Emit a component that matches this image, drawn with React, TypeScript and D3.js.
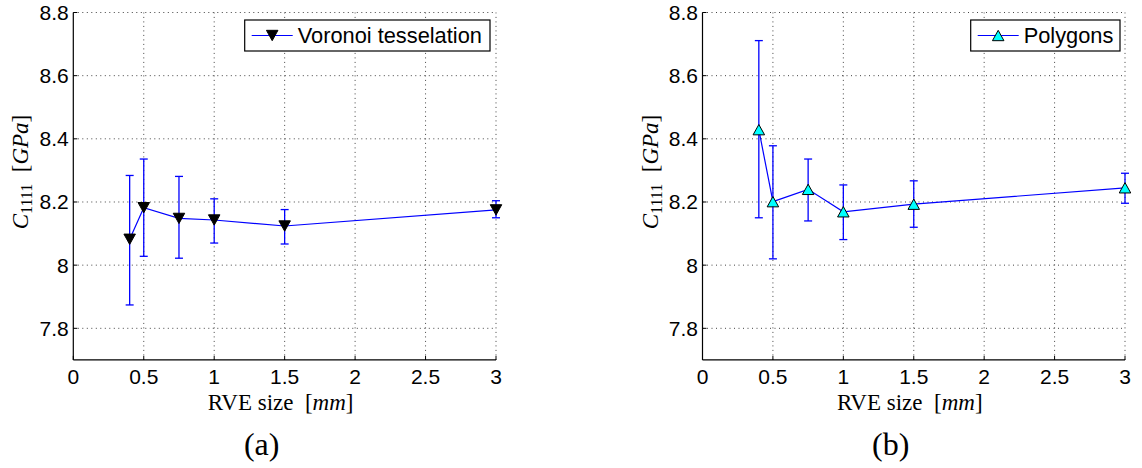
import React from "react";
import * as d3 from "d3";

const rveSizes = [0.4, 0.5, 0.75, 1, 1.5, 3];
const voronoiMean = [8.082, 8.182, 8.148, 8.143, 8.124, 8.175];
const voronoiUpper = [8.284, 8.336, 8.281, 8.21, 8.176, 8.204];
const voronoiLower = [7.874, 8.028, 8.022, 8.07, 8.067, 8.15];
const polygonMean = [8.429, 8.201, 8.24, 8.169, 8.193, 8.245];
const polygonUpper = [8.711, 8.378, 8.336, 8.254, 8.267, 8.291];
const polygonLower = [8.15, 8.02, 8.14, 8.081, 8.12, 8.196];
const xTicks = [0, 0.5, 1, 1.5, 2, 2.5, 3];
const xTickLabels = ["0", "0.5", "1", "1.5", "2", "2.5", "3"];
const yTicks = [7.8, 8, 8.2, 8.4, 8.6, 8.8];
const yTickLabels = ["7.8", "8", "8.2", "8.4", "8.6", "8.8"];
const seriesNames = ["Voronoi tesselation", "Polygons"];
const panelTags = ["(a)", "(b)"];

const W = 1142;
const H = 468;
const SANS = "'Liberation Sans', Arial, Helvetica, sans-serif";
const SERIF = "'Liberation Serif', 'Times New Roman', serif";

type PanelProps = {
  left: number;
  right: number;
  mean: number[];
  upper: number[];
  lower: number[];
  name: string;
  tag: string;
  marker: "down" | "up";
  legendX0: number;
  legendX1: number;
};

function tri(cx: number, cy: number, s: number, dir: "down" | "up") {
  const h = s * 0.9;
  if (dir === "down") {
    return `M${cx - s / 2},${cy - h / 2}L${cx + s / 2},${cy - h / 2}L${cx},${cy + h / 2}Z`;
  }
  return `M${cx - s / 2},${cy + h / 2}L${cx + s / 2},${cy + h / 2}L${cx},${cy - h / 2}Z`;
}

function Panel(p: PanelProps) {
  const top = 12.5;
  const bottom = 359.9;
  const x = d3.scaleLinear().domain([0, 3]).range([p.left, p.right]);
  const y = d3.scaleLinear().domain([7.7, 8.8]).range([bottom, top]);
  const line = d3
    .line<number>()
    .x((_, i) => x(rveSizes[i]))
    .y((d) => y(d));
  const fill = p.marker === "down" ? "#000" : "#00ffff";
  const cx = (p.left + p.right) / 2;
  const capW = 4;
  const legTop = 20;
  const legBot = 51;
  const legMid = (legTop + legBot) / 2;
  return (
    <g>
      {/* grid */}
      {xTicks.slice(1).map((t) => (
        <line key={"gx" + t} x1={x(t)} x2={x(t)} y1={bottom} y2={top} stroke="#444" strokeWidth={1} strokeDasharray="1,3.5" />
      ))}
      {yTicks.map((t) => (
        <line key={"gy" + t} x1={p.left} x2={p.right} y1={y(t)} y2={y(t)} stroke="#444" strokeWidth={1} strokeDasharray="1,3.5" />
      ))}
      {/* axes */}
      <line x1={p.left} x2={p.left} y1={top} y2={bottom} stroke="#000" strokeWidth={1.2} />
      <line x1={p.left} x2={p.right} y1={bottom} y2={bottom} stroke="#000" strokeWidth={1.2} />
      {xTicks.map((t) => (
        <line key={"tx" + t} x1={x(t)} x2={x(t)} y1={bottom} y2={bottom - 4} stroke="#000" />
      ))}
      {yTicks.map((t) => (
        <line key={"ty" + t} x1={p.left} x2={p.left + 4} y1={y(t)} y2={y(t)} stroke="#000" />
      ))}
      {xTicks.map((t, i) => (
        <text key={"lx" + t} x={x(t)} y={383.5} textAnchor="middle" fontFamily={SANS} fontSize={21} fill="#000">
          {xTickLabels[i]}
        </text>
      ))}
      {yTicks.map((t, i) => (
        <text key={"ly" + t} x={p.left - 4.5} y={y(t) + 7.5} textAnchor="end" fontFamily={SANS} fontSize={21} fill="#000">
          {yTickLabels[i]}
        </text>
      ))}
      {/* y label */}
      <text
        transform={`translate(${p.left - 45},${172}) rotate(-90)`}
        textAnchor="middle"
        fontFamily={SERIF}
        fontSize={23}
        fill="#000"
      >
        <tspan fontStyle="italic">C</tspan>
        <tspan fontSize={16} dy={4}>1111</tspan>
        <tspan dy={-4}>{"\u00a0\u00a0["}</tspan>
        <tspan fontStyle="italic">GPa</tspan>
        <tspan>]</tspan>
      </text>
      {/* x label */}
      <text x={cx - 4} y={410} textAnchor="middle" fontFamily={SERIF} fontSize={23} fill="#000">
        <tspan>{"RVE size\u00a0\u00a0["}</tspan>
        <tspan fontStyle="italic">mm</tspan>
        <tspan>]</tspan>
      </text>
      <text x={cx - 23} y={455} textAnchor="middle" fontFamily={SERIF} fontSize={32} fill="#000">
        {p.tag}
      </text>
      {/* error bars */}
      {rveSizes.map((s, i) => (
        <g key={"e" + i} stroke="#0000ff" strokeWidth={1.3}>
          <line x1={x(s)} x2={x(s)} y1={y(p.upper[i])} y2={y(p.lower[i])} />
          <line x1={x(s) - capW} x2={x(s) + capW} y1={y(p.upper[i])} y2={y(p.upper[i])} />
          <line x1={x(s) - capW} x2={x(s) + capW} y1={y(p.lower[i])} y2={y(p.lower[i])} />
        </g>
      ))}
      <path d={line(p.mean) || ""} fill="none" stroke="#0000ff" strokeWidth={1.2} />
      {rveSizes.map((s, i) => (
        <path key={"m" + i} d={tri(x(s), y(p.mean[i]), 11.5, p.marker)} fill={fill} stroke="#000" strokeWidth={1} />
      ))}
      {/* legend */}
      <rect x={p.legendX0} y={legTop} width={p.legendX1 - p.legendX0} height={legBot - legTop} fill="#fff" stroke="#000" strokeWidth={1.2} />
      <line x1={p.legendX0 + 7} x2={p.legendX0 + 48} y1={legMid} y2={legMid} stroke="#0000ff" strokeWidth={1.2} />
      <path d={tri(p.legendX0 + 27.5, legMid, 11.5, p.marker)} fill={fill} stroke="#000" strokeWidth={1} />
      <text x={p.legendX0 + 53} y={legMid + 7.5} fontFamily={SANS} fontSize={21.8} fill="#000">
        {p.name}
      </text>
    </g>
  );
}

export default function App() {
  return (
    <svg width={W} height={H} style={{ position: "absolute", left: 0, top: 0, background: "#fff" }}>
      <rect width={W} height={H} fill="#fff" />
      <Panel
        left={73.3}
        right={496}
        mean={voronoiMean}
        upper={voronoiUpper}
        lower={voronoiLower}
        name={seriesNames[0]}
        tag={panelTags[0]}
        marker="down"
        legendX0={244.7}
        legendX1={490}
      />
      <Panel
        left={702.5}
        right={1125}
        mean={polygonMean}
        upper={polygonUpper}
        lower={polygonLower}
        name={seriesNames[1]}
        tag={panelTags[1]}
        marker="up"
        legendX0={970.7}
        legendX1={1120}
      />
    </svg>
  );
}
